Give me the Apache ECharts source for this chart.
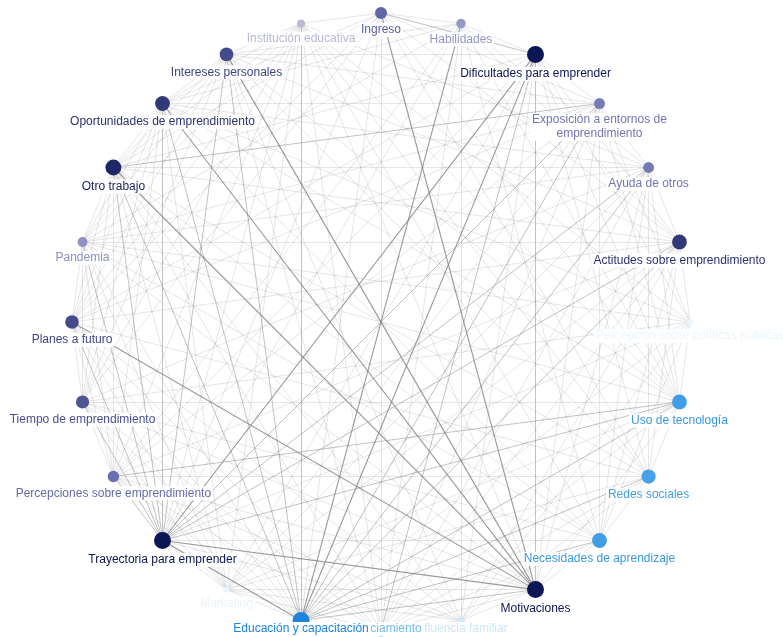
<!DOCTYPE html>
<html><head><meta charset="utf-8">
<script src="https://cdn.jsdelivr.net/npm/echarts@6/dist/echarts.min.js"></script>
<style>html,body{margin:0;padding:0;background:#fff}#c{width:783px;height:637px}</style>
</head><body><div id="c"></div>
<script>
// Nodes, clockwise from the top of the circle
const nodeNames = [
  'Ingreso', 'Habilidades', 'Dificultades para emprender',
  'Exposición a entornos de\nemprendimiento', 'Ayuda de otros',
  'Actitudes sobre emprendimiento', 'Percepción sobre políticas públicas',
  'Uso de tecnología', 'Redes sociales', 'Necesidades de aprendizaje',
  'Motivaciones', 'Influencia familiar', 'Financiamiento',
  'Educación y capacitación', 'Marketing', 'Trayectoria para emprender',
  'Percepciones sobre emprendimiento', 'Tiempo de emprendimiento',
  'Planes a futuro', 'Pandemia', 'Otro trabajo',
  'Oportunidades de emprendimiento', 'Intereses personales',
  'Institución educativa'
];
// node weight (0-10)
const nodeValues = [5.5, 3.2, 10, 4.5, 4.5, 8, 0.2, 8, 7.5, 8, 10, 1.5, 5, 10, 0.3, 10, 5, 6.5, 7, 3.5, 9, 8, 7, 1.8];
// 0 = navy group, 1 = blue group
const nodeGroups = [0, 0, 0, 0, 0, 0, 1, 1, 1, 1, 0, 1, 1, 1, 1, 0, 0, 0, 0, 0, 0, 0, 0, 0];

// [source, target, strength 1..3]
const links = [
  [15,10,3],[15,13,3],[22,10,3],[20,10,3],[21,10,3],[0,10,3],[1,13,3],[2,15,3],[2,13,3],[18,10,3],
  [15,7,2],[16,7,2],[21,15,2],[2,10,2],[23,13,2],[20,3,2],[20,15,2],[20,13,2],[22,13,2],[10,13,2],
  [13,9,2],[13,7,2],[13,5,2],[15,5,2],[3,13,2],[4,15,2],[2,12,2],[0,2,2],[22,15,2],[21,13,2],
  [4,13,2],[3,15,2],[13,8,2],[19,15,2],[18,15,2],[17,15,2],[16,15,2],
  [0,23,1],[0,1,1],[0,5,1],[0,8,1],[0,13,1],[0,15,1],[0,17,1],[0,20,1],[0,3,1],[0,12,1],
  [0,7,1],[0,18,1],[0,21,1],
  [1,2,1],[1,4,1],[1,7,1],[1,9,1],[1,15,1],[1,16,1],[1,19,1],[1,21,1],[1,11,1],
  [1,5,1],[1,12,1],[1,22,1],
  [2,3,1],[2,5,1],[2,6,1],[2,8,1],[2,14,1],[2,16,1],[2,18,1],[2,20,1],[2,22,1],[2,7,1],[2,11,1],
  [3,4,1],[3,6,1],[3,9,1],[3,12,1],[3,16,1],[3,18,1],[3,19,1],[3,22,1],[3,14,1],[3,7,1],[3,10,1],[3,21,1],
  [4,5,1],[4,7,1],[4,10,1],[4,12,1],[4,17,1],[4,19,1],[4,21,1],[4,23,1],[4,8,1],[4,9,1],[4,14,1],[4,20,1],
  [5,6,1],[5,8,1],[5,11,1],[5,16,1],[5,18,1],[5,20,1],[5,22,1],[5,19,1],[5,9,1],[5,12,1],[5,14,1],
  [6,7,1],[6,9,1],[6,13,1],[6,15,1],[6,17,1],[6,19,1],[6,21,1],[6,11,1],[6,23,1],
  [7,8,1],[7,10,1],[7,12,1],[7,17,1],[7,19,1],[7,21,1],[7,23,1],[7,14,1],[7,22,1],
  [8,9,1],[8,11,1],[8,14,1],[8,18,1],[8,20,1],[8,22,1],[8,16,1],[8,12,1],[8,23,1],
  [9,10,1],[9,12,1],[9,15,1],[9,17,1],[9,19,1],[9,21,1],[9,23,1],[9,20,1],
  [10,11,1],[10,14,1],[10,16,1],[10,17,1],[10,19,1],[10,23,1],[10,12,1],
  [11,12,1],[11,15,1],[11,18,1],[11,20,1],[11,22,1],[11,14,1],[11,16,1],
  [12,13,1],[12,16,1],[12,18,1],[12,20,1],[12,22,1],[12,23,1],[12,14,1],[12,17,1],
  [13,16,1],[13,17,1],[13,18,1],[13,19,1],[13,14,1],
  [14,15,1],[14,17,1],[14,19,1],[14,21,1],[14,23,1],[14,16,1],[14,18,1],[14,20,1],[15,23,1],
  [16,17,1],[16,19,1],[16,21,1],[16,23,1],[16,18,1],[16,20,1],
  [17,18,1],[17,20,1],[17,22,1],[17,19,1],[17,21,1],[17,23,1],
  [18,19,1],[18,21,1],[18,23,1],[18,20,1],[18,22,1],
  [19,20,1],[19,22,1],[19,21,1],[19,23,1],
  [20,21,1],[20,23,1],[20,22,1],[21,22,1],[21,23,1],[22,23,1]
];

const palettes = [
  ['#e4e4ef', '#6a6fb0', '#0b1654'],
  ['#f2f8fd', '#78bff0', '#1c84dc']
];
const lerp = echarts.color.lerp;

const nodes = nodeNames.map((name, i) => {
  const t = nodeValues[i] / 10;
  const pal = palettes[nodeGroups[i]];
  return {
    name: name,
    value: [1, i],
    symbolSize: 6 + nodeValues[i] * 1.1,
    itemStyle: { color: lerp(t, pal) },
    label: { color: lerp(Math.min(1, t * 1.05), pal) }
  };
});

const linkOpacity = [0, 0.2, 0.48, 0.8];
const edges = links.map(l => ({
  source: l[0], target: l[1],
  lineStyle: { color: '#808080', opacity: linkOpacity[l[2]], width: l[2] === 3 ? 1.1 : 1 }
}));

const H = 637;
const chart = echarts.init(document.getElementById('c'));
chart.setOption({
  backgroundColor: '#fff',
  animation: false,
  polar: { center: [381, 322], radius: 309 },
  angleAxis: {
    type: 'category', data: nodeNames.map((n, i) => i), boundaryGap: false,
    startAngle: 90, clockwise: true, show: false
  },
  radiusAxis: { type: 'value', min: 0, max: 1, show: false },
  series: [{
    type: 'graph',
    coordinateSystem: 'polar',
    data: nodes,
    links: edges,
    label: {
      show: true, position: 'bottom', distance: 4,
      fontSize: 12, fontFamily: 'Liberation Sans, Arial, sans-serif',
      backgroundColor: '#fff', padding: [0, 2], lineHeight: 14
    },
    labelLayout: function (p) {
      const r = p.labelRect;
      if (r.y + r.height > H - 1) {
        return { x: r.x + r.width / 2, y: H - 1 - r.height, align: 'center', verticalAlign: 'top' };
      }
      return {};
    },
    lineStyle: { curveness: 0 },
    emphasis: { disabled: true }
  }]
});
</script></body></html>
